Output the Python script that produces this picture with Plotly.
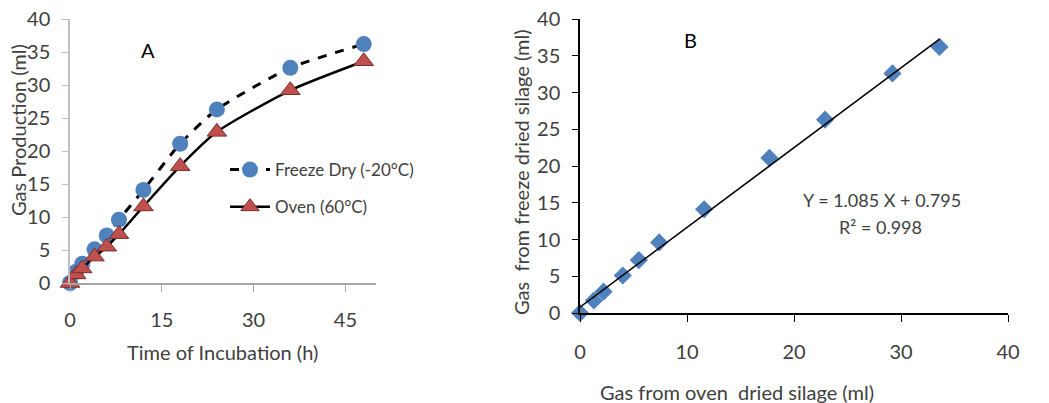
import numpy as np
import plotly.graph_objects as go

W, H = 1049, 403
FONT = "Lato"

# ---------------- data ----------------
time_h = [0, 1, 2, 4, 6, 8, 12, 18, 24, 36, 48]
freeze_dry = [0, 1.7, 2.9, 5.1, 7.2, 9.6, 14.1, 21.1, 26.3, 32.6, 36.2]
oven = [0, 1.3, 2.2, 4.0, 5.5, 7.4, 11.6, 17.7, 22.9, 29.2, 33.6]
xticks_a = [0, 15, 30, 45]
yticks = [0, 5, 10, 15, 20, 25, 30, 35, 40]
xticks_b = [0, 10, 20, 30, 40]
slope, intercept, r2 = 1.085, 0.795, 0.998

def px(x):
    return x / W

def py(y):
    return 1 - y / H

fig = go.Figure()

# Panel A
fig.add_trace(go.Scatter(
    x=time_h, y=freeze_dry, mode="lines+markers", name="Freeze Dry (-20°C)",
    line=dict(color="black", width=3, dash="dash", shape="spline", smoothing=0.6),
    marker=dict(symbol="circle", size=16, color="#4f81bd"),
    cliponaxis=False, xaxis="x", yaxis="y", legendgroup="a"))
fig.add_trace(go.Scatter(
    x=time_h, y=oven, mode="lines+markers", name="Oven (60°C)",
    line=dict(color="black", width=2.5, shape="spline", smoothing=0.6),
    marker=dict(symbol="triangle-up", size=17, color="#c0504d",
                line=dict(color="#7a2e2b", width=1)),
    cliponaxis=False, xaxis="x", yaxis="y", legendgroup="b"))

# Panel B
fig.add_trace(go.Scatter(
    x=oven, y=freeze_dry, mode="markers", showlegend=False,
    marker=dict(symbol="diamond", size=14, color="#4f81bd"),
    cliponaxis=False, xaxis="x2", yaxis="y2"))
xf = np.array([0, max(oven)])
fig.add_trace(go.Scatter(
    x=xf, y=slope * xf + intercept, mode="lines", showlegend=False,
    line=dict(color="black", width=1.5),
    cliponaxis=False, xaxis="x2", yaxis="y2"))

tickfont = dict(family=FONT, size=20, color="#404040")
grayA = "#a6a6a6"

fig.update_layout(
    width=W, height=H,
    margin=dict(l=0, r=0, t=0, b=0),
    paper_bgcolor="white", plot_bgcolor="white",
    font=dict(family=FONT, color="#404040"),
    showlegend=True,
    legend=dict(x=px(225), y=py(152), xanchor="left", yanchor="top",
                bgcolor="rgba(0,0,0,0)", font=dict(family=FONT, size=17, color="#404040"),
                tracegroupgap=12, itemwidth=40),
    xaxis=dict(domain=[px(70), px(376)], range=[0, 50], tickvals=xticks_a,
               showgrid=False, zeroline=False, showline=True, linecolor=grayA, linewidth=1.5,
               ticks="outside", ticklen=7, tickcolor=grayA, tickfont=tickfont,
               ticklabelstandoff=11, anchor="y", automargin=False, fixedrange=True),
    yaxis=dict(domain=[py(283), py(19)], range=[0, 40], tickvals=yticks,
               showgrid=False, zeroline=False, showline=True, linecolor="#bfbfbf", linewidth=1.5,
               ticks="outside", ticklen=6, tickcolor="#bfbfbf", tickfont=tickfont,
               ticklabelstandoff=8, anchor="x", automargin=False, fixedrange=True),
    xaxis2=dict(domain=[px(580), px(1008)], range=[0, 40], tickvals=xticks_b,
                showgrid=False, zeroline=False, showline=True, linecolor="black", linewidth=1.5,
                ticks="outside", ticklen=7, tickcolor="black", tickfont=tickfont,
                ticklabelstandoff=13, anchor="y2", automargin=False, fixedrange=True),
    yaxis2=dict(domain=[py(313), py(19)], range=[0, 40], tickvals=yticks,
                showgrid=False, zeroline=False, showline=True, linecolor="black", linewidth=1.5,
                ticks="outside", ticklen=6, tickcolor="black", tickfont=tickfont,
                ticklabelstandoff=8, anchor="x2", automargin=False, fixedrange=True),
)

ann_font = dict(family=FONT, size=20, color="#404040")
eq_font = dict(family=FONT, size=18, color="#404040")
annotations = [
    dict(text="A", x=px(148), y=py(50), font=dict(family=FONT, size=20, color="black")),
    dict(text="B", x=px(690), y=py(40), font=dict(family=FONT, size=20, color="black")),
    dict(text="Time of Incubation (h)", x=px(222), y=py(352), font=ann_font),
    dict(text="Gas Production (ml)", x=px(18), y=py(130), textangle=-90, font=ann_font),
    dict(text="Gas from oven  dried silage (ml)", x=px(737), y=py(392), font=ann_font),
    dict(text="Gas  from freeze dried silage (ml)", x=px(521), y=py(172), textangle=-90, font=ann_font),
    dict(text=f"Y = {slope} X + {intercept}", x=px(882), y=py(200), font=eq_font),
    dict(text=f"R² = {r2}", x=px(880), y=py(227), font=eq_font),
]
for a in annotations:
    a.update(xref="paper", yref="paper", showarrow=False, xanchor="center", yanchor="middle")
fig.update_layout(annotations=annotations)

fig.write_html("out.html", config={"displayModeBar": False},
               post_script="document.body.style.margin='0px';document.body.style.overflow='hidden';")
